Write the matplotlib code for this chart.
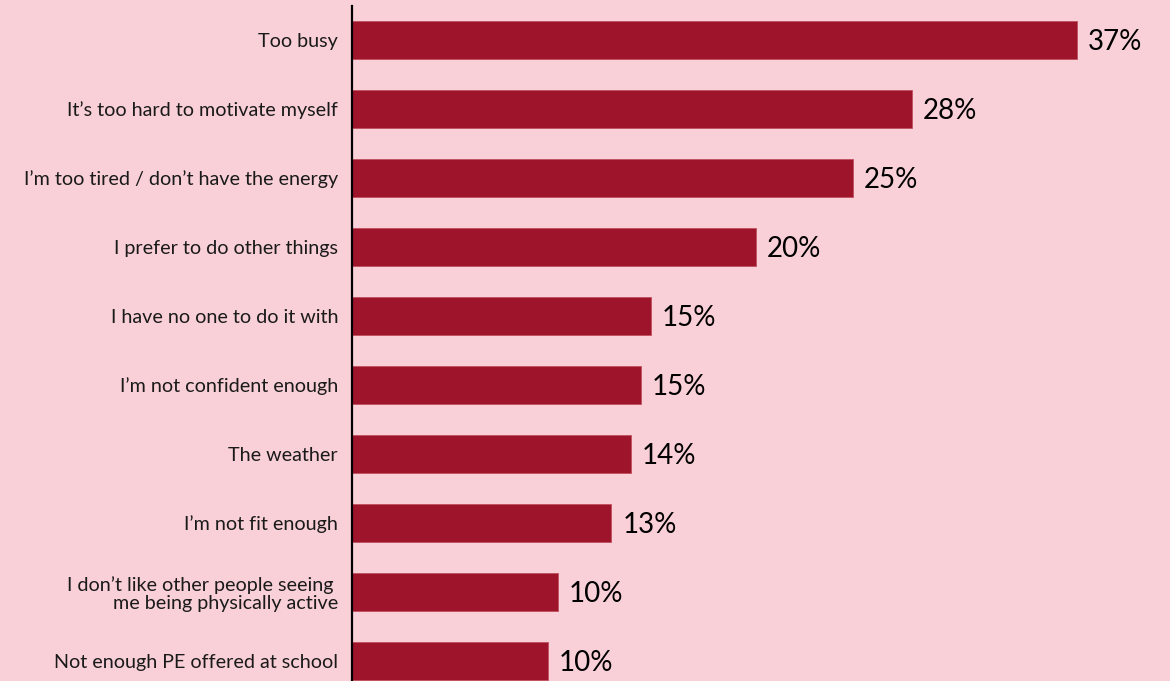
import matplotlib.pyplot as plt

reasons = [
    "Too busy",
    "It\u2019s too hard to motivate myself",
    "I\u2019m too tired / don\u2019t have the energy",
    "I prefer to do other things",
    "I have no one to do it with",
    "I\u2019m not confident enough",
    "The weather",
    "I\u2019m not fit enough",
    "I don\u2019t like other people seeing \nme being physically active",
    "Not enough PE offered at school",
]
pct = [36.6, 28.3, 25.3, 20.4, 15.1, 14.6, 14.1, 13.1, 10.4, 9.9]

bg = "#f9d0d7"
barcol = "#9e142b"

plt.rcParams['font.family'] = ['Lato', 'DejaVu Sans']

fig = plt.figure(figsize=(11.7, 6.81), dpi=100, facecolor=bg)
ax = fig.add_axes([352 / 1170, 0, 818 / 1170, 675 / 681])
ax.set_facecolor(bg)

ypos = list(range(len(reasons)))
ax.barh(ypos, pct, height=0.55, color=barcol, edgecolor="#c0505f", linewidth=0.6)

for y, v in zip(ypos, pct):
    ax.text(v + 0.55, y + 0.03, f"{v:.0f}%", va="center", ha="left", fontsize=20, color="black")

ax.set_yticks(ypos)
ax.set_yticklabels(reasons, fontsize=14.2, color="#1a1a1a", linespacing=1.05)
ax.tick_params(axis="y", length=0, pad=10)
ax.set_xticks([])
ax.set_xlim(0, 818 / 19.8)
ax.set_ylim(9 + 20 / 69, -34 / 69 + 0.0)

for s in ["top", "right", "bottom"]:
    ax.spines[s].set_visible(False)
ax.spines["left"].set_color("black")
ax.spines["left"].set_linewidth(1.6)

fig.savefig("out.png", dpi=100, facecolor=bg)
